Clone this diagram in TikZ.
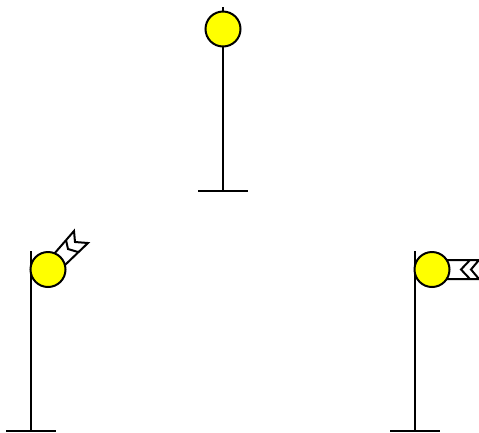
\documentclass[tikz,border=0pt]{standalone}
\usepackage{tikz}
\definecolor{lampyellow}{RGB}{255,255,0}
\begin{document}
\begin{tikzpicture}[x=1pt,y=-1pt,
    lamp/.style={circle,draw,line width=2pt,fill=lampyellow,minimum size=35pt,inner sep=0pt},
    pole/.style={line width=2pt},
    vane/.style={line width=2pt,line join=miter}]
    \useasboundingbox (0,0) rectangle (479,432);
    % top post
    \coordinate (topHead) at (223,7);
    \coordinate (topFoot) at (223,191);
    \coordinate (topBaseL) at (198,191);
    \coordinate (topBaseR) at (248,191);
    \draw[pole] (topHead) -- (topFoot);
    \draw[pole] (topBaseL) -- (topBaseR);
    \node[lamp] (topLamp) at (223,29) {};
    % left post
    \coordinate (leftHead) at (31,251);
    \coordinate (leftFoot) at (31,431);
    \coordinate (leftBaseL) at (6,431);
    \coordinate (leftBaseR) at (56,431);
    \draw[pole] (leftHead) -- (leftFoot);
    \draw[pole] (leftBaseL) -- (leftBaseR);
    \draw[vane] (54,254) -- (74,231) -- (75,242) -- (88,243) -- (65,265);
    \draw[vane] (66,240) -- (68,249) -- (78,252);
    \node[lamp] (leftLamp) at (48,269.5) {};
    % right post
    \coordinate (rightHead) at (415,251);
    \coordinate (rightFoot) at (415,431);
    \coordinate (rightBaseL) at (390,431);
    \coordinate (rightBaseR) at (440,431);
    \draw[pole] (rightHead) -- (rightFoot);
    \draw[pole] (rightBaseL) -- (rightBaseR);
    \draw[vane] (445,260) -- (479,260) -- (471,269.5) -- (479,279) -- (445,279);
    \draw[vane] (470,260) -- (461,269.5) -- (470,279);
    \node[lamp] (rightLamp) at (432,269.5) {};
\end{tikzpicture}
\end{document}
